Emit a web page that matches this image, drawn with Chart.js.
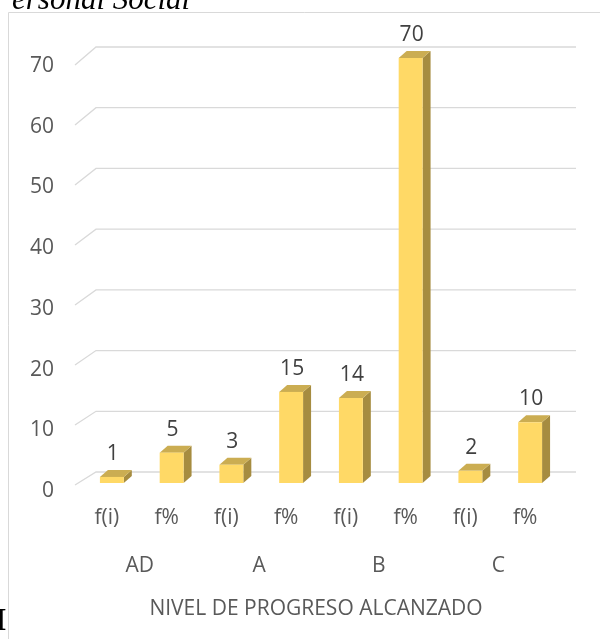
<!DOCTYPE html>
<html>
<head>
<meta charset="utf-8">
<script src="https://cdn.jsdelivr.net/npm/chart.js@4.4.1/dist/chart.umd.min.js"></script>
<style>
    html, body { margin: 0; padding: 0; background: #fff; }
    #wrap { position: relative; width: 600px; height: 639px; overflow: hidden; }
    #chart { position: absolute; left: 0; top: 0; }
    .cut { position: absolute; font-family: "Liberation Serif", serif; color: #000; white-space: nowrap; }
    #head { left: 12px; top: -21px; font-size: 31px; font-style: italic; line-height: 40px; }
    #foot { left: -6px; top: 599px; font-size: 32px; font-weight: bold; line-height: 40px; }
</style>
</head>
<body>
<div id="wrap">
    <canvas id="chart" width="600" height="639"></canvas>
    <div class="cut" id="head">ersonal Social</div>
    <div class="cut" id="foot">I</div>
</div>
<script>
// chart data
const levels = ['AD', 'A', 'B', 'C'];
const columns = ['f(i)', 'f%', 'f(i)', 'f%', 'f(i)', 'f%', 'f(i)', 'f%'];
const counts = [1, 5, 3, 15, 14, 70, 2, 10];
const yTicks = [0, 10, 20, 30, 40, 50, 60, 70];
const axisTitle = 'NIVEL DE PROGRESO ALCANZADO';

const FONT = '"Open Sans", Lato, sans-serif';
const SIZE = 21;

// depth of the fake 3d look
const shiftX = 5;
const depthX = 8;
const depthY = 7;

const frame = {
    id: 'frame',
    beforeDraw(chart) {
        const ctx = chart.ctx;
        ctx.save();
        ctx.strokeStyle = '#d9d9d9';
        ctx.lineWidth = 1;
        ctx.beginPath();
        ctx.moveTo(8.5, 639);
        ctx.lineTo(8.5, 12.5);
        ctx.lineTo(600, 12.5);
        ctx.stroke();
        ctx.restore();
    }
};

// back wall grid with the slanted floor edge
const wallGrid = {
    id: 'wallGrid',
    beforeDatasetsDraw(chart) {
        const ctx = chart.ctx;
        const y = chart.scales.y;
        const base = y.getPixelForValue(0);
        ctx.save();
        ctx.strokeStyle = '#d9d9d9';
        ctx.lineWidth = 1.3;
        yTicks.forEach((v) => {
            const p = y.getPixelForValue(v);
            const back = p - 11;
            const front = 485 + (p - base) * 0.988;
            ctx.beginPath();
            ctx.moveTo(75, front);
            ctx.lineTo(96, back);
            ctx.lineTo(576, back);
            ctx.stroke();
        });
        ctx.restore();
    }
};

const bars3d = {
    id: 'bars3d',
    afterDatasetsDraw(chart) {
        const ctx = chart.ctx;
        const meta = chart.getDatasetMeta(0);
        ctx.save();
        meta.data.forEach((bar, i) => {
            const w = bar.width;
            const l = bar.x - w / 2 + shiftX;
            const r = l + w;
            const t = bar.y;
            const b = bar.base;

            // side
            ctx.fillStyle = '#a68c40';
            ctx.beginPath();
            ctx.moveTo(r, t);
            ctx.lineTo(r + depthX, t - depthY);
            ctx.lineTo(r + depthX, b - depthY);
            ctx.lineTo(r, b);
            ctx.closePath();
            ctx.fill();

            // top
            ctx.fillStyle = '#cbad52';
            ctx.beginPath();
            ctx.moveTo(l, t);
            ctx.lineTo(l + depthX, t - depthY);
            ctx.lineTo(r + depthX, t - depthY);
            ctx.lineTo(r, t);
            ctx.closePath();
            ctx.fill();

            // front
            ctx.fillStyle = '#ffd966';
            ctx.fillRect(l, t, w, b - t);

            // value label
            ctx.fillStyle = '#404040';
            ctx.font = SIZE + 'px ' + FONT;
            ctx.textAlign = 'center';
            ctx.textBaseline = 'middle';
            ctx.fillText(String(counts[i]), l + w / 2 + 1, t - 23);
        });
        ctx.restore();
    }
};

new Chart(document.getElementById('chart'), {
    type: 'bar',
    data: {
        labels: columns,
        datasets: [
            {
                data: counts,
                xAxisID: 'x',
                backgroundColor: 'rgba(0,0,0,0)',
                borderWidth: 0,
                categoryPercentage: 1,
                barPercentage: 0.4
            }
        ]
    },
    options: {
        responsive: false,
        animation: false,
        events: [],
        layout: {
            padding: { top: 58, right: 45, bottom: 0, left: 0 }
        },
        plugins: {
            legend: { display: false },
            tooltip: { enabled: false }
        },
        scales: {
            y: {
                min: 0,
                max: 70,
                afterFit: (s) => { s.width = 77; },
                afterBuildTicks: (s) => { s.ticks = yTicks.map((v) => ({ value: v })); },
                grid: { display: false, drawTicks: false },
                border: { display: false },
                ticks: {
                    padding: 23,
                    labelOffset: 8,
                    color: '#595959',
                    font: { family: FONT, size: SIZE }
                }
            },
            x: {
                position: 'bottom',
                weight: 0,
                afterFit: (s) => { s.height = 50; },
                grid: { display: false, drawTicks: false },
                border: { display: false },
                ticks: {
                    padding: 22,
                    maxRotation: 0,
                    autoSkip: false,
                    color: '#595959',
                    font: { family: FONT, size: SIZE }
                }
            },
            x2: {
                type: 'category',
                labels: levels,
                offset: true,
                position: 'bottom',
                weight: 1,
                afterFit: (s) => { s.height = 106; },
                grid: { display: false, drawTicks: false },
                border: { display: false },
                ticks: {
                    padding: 20,
                    labelOffset: 3,
                    maxRotation: 0,
                    color: '#595959',
                    font: { family: FONT, size: SIZE }
                },
                title: {
                    display: true,
                    text: axisTitle,
                    color: '#595959',
                    padding: { top: 0, bottom: 17 },
                    font: { family: FONT, size: SIZE }
                }
            }
        }
    },
    plugins: [frame, wallGrid, bars3d]
});
</script>
</body>
</html>
